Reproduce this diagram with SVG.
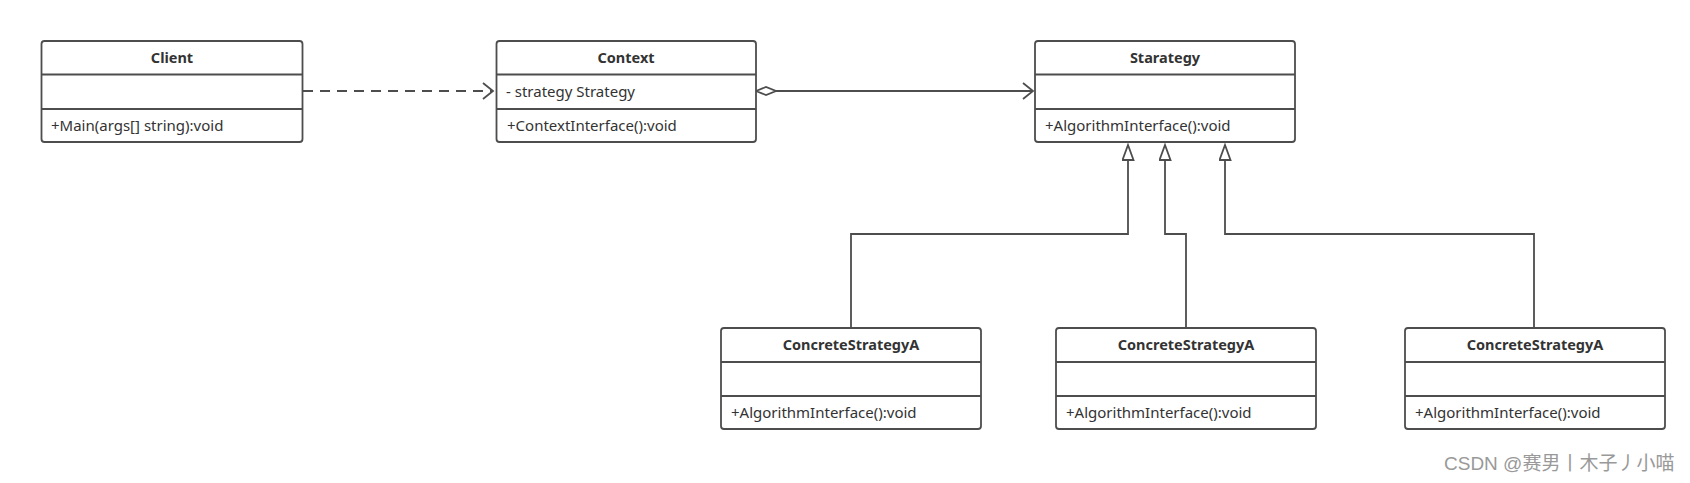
<svg xmlns="http://www.w3.org/2000/svg" width="1690" height="483" viewBox="0 0 1690 483">
<style>
.box{fill:#fff;stroke:#4d4d4d;stroke-width:1.8}
.div{stroke:#4d4d4d;stroke-width:1.8}
.title{font-family:"Noto Sans","Open Sans",sans-serif;font-size:14.5px;font-weight:bold;fill:#333;text-anchor:middle}
.mem{font-family:"Noto Sans","Open Sans",sans-serif;font-size:15px;fill:#333}
.conn{fill:none;stroke:#4d4d4d;stroke-width:1.8}
.wm{font-family:"Liberation Sans","Noto Sans CJK SC",sans-serif;font-size:19px;fill:#999}
</style>
<defs>
<marker id="open" markerUnits="userSpaceOnUse" markerWidth="14" markerHeight="20" refX="11" refY="9" orient="auto">
<path d="M1,1 L11,9 L1,17" fill="none" stroke="#4d4d4d" stroke-width="1.8"/>
</marker>
<marker id="diamond" markerUnits="userSpaceOnUse" markerWidth="24" markerHeight="12" refX="1" refY="5" orient="auto">
<path d="M1,5 L11,1 L21,5 L11,9 Z" fill="#fff" stroke="#4d4d4d" stroke-width="1.8"/>
</marker>
<marker id="tri" markerUnits="userSpaceOnUse" markerWidth="18" markerHeight="14" refX="16" refY="6.5" orient="auto">
<path d="M1,1 L16,6.5 L1,12 Z" fill="#fff" stroke="#4d4d4d" stroke-width="1.8"/>
</marker>
</defs>
<rect width="1690" height="483" fill="#fff"/>
<g id="connectors">
<path class="conn" d="M303,91 H493" stroke-dasharray="10,7" marker-end="url(#open)"/>
<path class="conn" d="M756,91 H1033" marker-start="url(#diamond)" marker-end="url(#open)"/>
<path class="conn" d="M851,328 V234 H1128 V145" marker-end="url(#tri)"/>
<path class="conn" d="M1186,328 V234 H1165 V145" marker-end="url(#tri)"/>
<path class="conn" d="M1534,328 V234 H1225 V145" marker-end="url(#tri)"/>
</g>
<g id="client">
<rect class="box" x="41.5" y="41" width="261" height="101" rx="3"/>
<line class="div" x1="41.5" y1="74.5" x2="302.5" y2="74.5"/>
<line class="div" x1="41.5" y1="109" x2="302.5" y2="109"/>
<text class="title" x="172" y="63">Client</text>
<text class="mem" x="51" y="131">+Main(args[] string):void</text>
</g>
<g id="context">
<rect class="box" x="496.5" y="41" width="259.5" height="101" rx="3"/>
<line class="div" x1="496.5" y1="74.5" x2="756" y2="74.5"/>
<line class="div" x1="496.5" y1="109" x2="756" y2="109"/>
<text class="title" x="626" y="63">Context</text>
<text class="mem" x="506" y="97">- strategy Strategy</text>
<text class="mem" x="507" y="131">+ContextInterface():void</text>
</g>
<g id="strategy">
<rect class="box" x="1035" y="41" width="260" height="101" rx="3"/>
<line class="div" x1="1035" y1="74.5" x2="1295" y2="74.5"/>
<line class="div" x1="1035" y1="109" x2="1295" y2="109"/>
<text class="title" x="1165" y="63">Starategy</text>
<text class="mem" x="1045" y="131">+AlgorithmInterface():void</text>
</g>
<g id="concreteA1">
<rect class="box" x="721" y="328" width="260" height="101" rx="3"/>
<line class="div" x1="721" y1="362" x2="981" y2="362"/>
<line class="div" x1="721" y1="396" x2="981" y2="396"/>
<text class="title" x="851" y="350">ConcreteStrategyA</text>
<text class="mem" x="731" y="418">+AlgorithmInterface():void</text>
</g>
<g id="concreteA2">
<rect class="box" x="1056" y="328" width="260" height="101" rx="3"/>
<line class="div" x1="1056" y1="362" x2="1316" y2="362"/>
<line class="div" x1="1056" y1="396" x2="1316" y2="396"/>
<text class="title" x="1186" y="350">ConcreteStrategyA</text>
<text class="mem" x="1066" y="418">+AlgorithmInterface():void</text>
</g>
<g id="concreteA3">
<rect class="box" x="1405" y="328" width="260" height="101" rx="3"/>
<line class="div" x1="1405" y1="362" x2="1665" y2="362"/>
<line class="div" x1="1405" y1="396" x2="1665" y2="396"/>
<text class="title" x="1535" y="350">ConcreteStrategyA</text>
<text class="mem" x="1415" y="418">+AlgorithmInterface():void</text>
</g>
<text class="wm" x="1444" y="470">CSDN @赛男丨木子丿小喵</text>
</svg>
